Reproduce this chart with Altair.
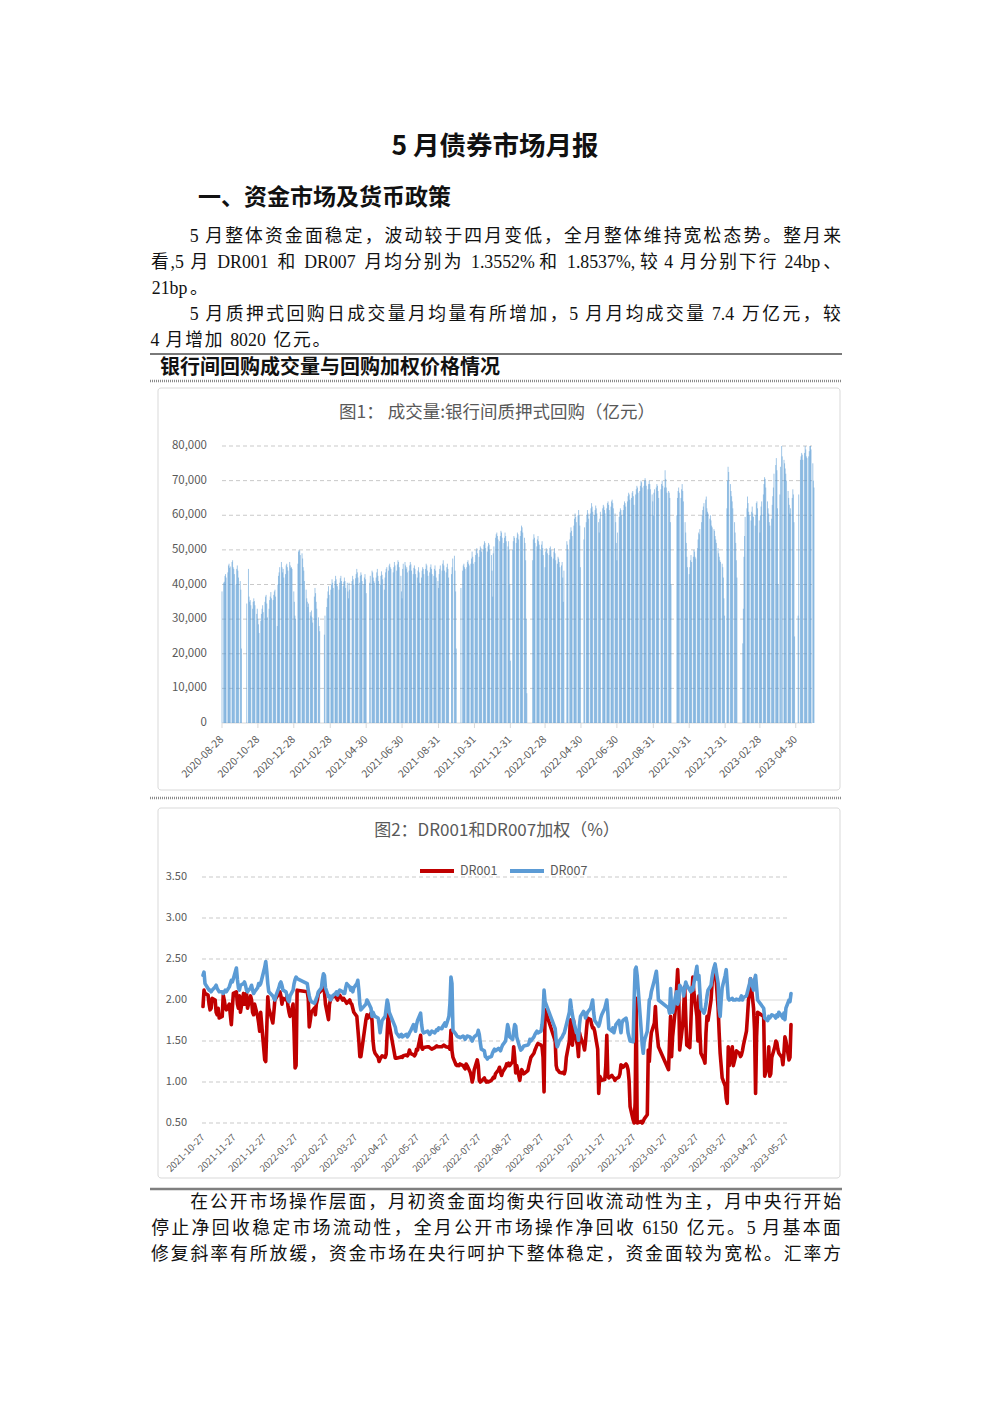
import altair as alt
import pandas as pd

FONT = "Noto Sans CJK SC"
BODY_FONT = "'Liberation Serif', 'Noto Sans CJK SC'"
INK = "#1a1a1a"
AXIS_GREY = "#595959"
GRID_GREY = "#C9C9C9"

# ---------------- page text ----------------
TITLE = "5 月债券市场月报"
SECTION = "一、资金市场及货币政策"
PARA_TOP = [
    "5 月整体资金面稳定，波动较于四月变低，全月整体维持宽松态势。整月来",
    "看,5 月 DR001 和 DR007 月均分别为 1.3552%和 1.8537%,较 4 月分别下行 24bp、",
    "21bp。",
    "5 月质押式回购日成交量月均量有所增加，5 月月均成交量 7.4 万亿元，较",
    "4 月增加 8020 亿元。",
]
PARA_TOP_INDENT = [True, False, False, True, False]
PARA_TOP_FULL = [True, True, False, True, False]
BOX_HEADING = "银行间回购成交量与回购加权价格情况"
PARA_BOTTOM = [
    "在公开市场操作层面，月初资金面均衡央行回收流动性为主，月中央行开始",
    "停止净回收稳定市场流动性，全月公开市场操作净回收 6150 亿元。5 月基本面",
    "修复斜率有所放缓，资金市场在央行呵护下整体稳定，资金面较为宽松。汇率方",
]
PARA_BOTTOM_INDENT = [True, False, False]
PARA_BOTTOM_FULL = [True, True, True]
FIG1_TITLE = "图1：  成交量:银行间质押式回购（亿元）"
FIG2_TITLE = "图2：DR001和DR007加权（%）"

# ---------------- calendar ----------------
HOLIDAYS = [
    "2020-10-01", "2020-10-02", "2020-10-05", "2020-10-06", "2020-10-07", "2020-10-08",
    "2021-01-01", "2021-02-11", "2021-02-12", "2021-02-15", "2021-02-16", "2021-02-17",
    "2021-04-05", "2021-05-03", "2021-05-04", "2021-05-05", "2021-06-14", "2021-09-20",
    "2021-09-21", "2021-10-01", "2021-10-04", "2021-10-05", "2021-10-06", "2021-10-07",
    "2022-01-03", "2022-01-31", "2022-02-01", "2022-02-02", "2022-02-03", "2022-02-04",
    "2022-04-04", "2022-04-05", "2022-05-02", "2022-05-03", "2022-05-04", "2022-06-03",
    "2022-09-12", "2022-10-03", "2022-10-04", "2022-10-05", "2022-10-06", "2022-10-07",
    "2023-01-02", "2023-01-23", "2023-01-24", "2023-01-25", "2023-01-26", "2023-01-27",
    "2023-04-05", "2023-05-01", "2023-05-02", "2023-05-03",
]

# ---------------- figure 1: daily repo volume (亿元), one list per month ----------------
vol_2020 = {
    8: [38000, 40500],
    9: [40800, 42500, 43000, 42000, 43500, 45500, 46000, 44800, 45200, 46500, 47000,
        45000, 44500, 43000, 40000, 44500, 45500, 44000, 42000, 41000, 38500, 21500],
    10: [34500, 44500, 36500, 35000, 35500, 34000, 33000, 35000, 36000, 35200, 34000,
         31500, 33000, 30000, 28500, 26000],
    11: [29500, 31500, 33000, 34000, 32000, 35000, 36500, 37000, 34500, 30500, 33000,
         35500, 36500, 37800, 36000, 35500, 37000, 38000, 38500, 36500, 28000],
    12: [40000, 42500, 43500, 45000, 46500, 45000, 43500, 44500, 42000, 43000, 45500,
         46000, 45000, 44000, 46500, 45500, 44800, 45000, 44500, 38000, 35000, 31000, 30000],
}
vol_2021 = {
    1: [46000, 49500, 50000, 49800, 48500, 49000, 47500, 45000, 44000, 41000, 38500,
        36000, 35000, 33500, 34500, 32000, 31000, 32500, 30500, 29000],
    2: [36500, 39000, 37500, 35000, 33000, 30500, 28000, 26500, 25500, 31000, 33500,
        36000, 38000, 39500, 37000],
    3: [38500, 40000, 41500, 40500, 39000, 41000, 42500, 41500, 40000, 39500, 38500,
        40500, 41800, 42500, 41000, 39500, 40800, 42000, 41000, 39000, 40500, 38000, 36000],
    4: [40500, 38500, 41000, 42500, 41500, 40000, 41800, 43000, 44500, 43500, 42000,
        40500, 42500, 43500, 42800, 41000, 40000, 42000, 43000, 41500, 37500],
    5: [40500, 42500, 44000, 43500, 42000, 41000, 40500, 42000, 43500, 44500, 42500,
        41000, 40000, 42500, 43800, 42800, 41500, 38500],
    6: [42000, 43500, 44500, 45000, 44000, 45500, 46000, 45000, 44500, 43500, 45000,
        46500, 45500, 44000, 45800, 47000, 46500, 45000, 42500, 38000, 36000],
    7: [44500, 46000, 46500, 45500, 44500, 45000, 43500, 44000, 45500, 46500, 45800,
        44000, 43000, 44800, 45500, 44500, 43000, 42000, 44000, 45000, 43500, 40500],
    8: [42000, 44000, 45000, 44500, 43000, 44500, 46000, 45500, 44000, 42500, 43500,
        45000, 45800, 44500, 43000, 42500, 44500, 45500, 44000, 42000, 41000, 39000],
    9: [43000, 44500, 45500, 44000, 46000, 47000, 45500, 44000, 43500, 45000, 46000,
        44500, 42000, 43000, 45000, 47500, 48300, 44000, 38000, 21500],
    10: [39000, 44000, 45500, 46000, 45000, 44500, 45000, 46500, 47000, 46000, 45500,
         46000, 47500, 49500, 48000, 46000],
    11: [46500, 48500, 50000, 50500, 49000, 48000, 50000, 51000, 50500, 49500, 50000,
         51500, 52500, 52000, 50500, 49500, 51000, 52000, 51500, 50000, 48500, 44000],
    12: [36500, 49000, 51000, 53500, 54500, 55000, 54000, 53000, 52500, 54000, 55500,
         55000, 53500, 52000, 53500, 55000, 54000, 52500, 51000, 52500, 50000, 40000, 18000],
}
vol_2022 = {
    1: [50000, 52500, 54000, 53500, 52000, 53500, 55000, 54500, 53000, 54000, 55500,
        57000, 56500, 55000, 53500, 52000, 47000, 30000, 8600],
    2: [47000, 53000, 54500, 53500, 52000, 51000, 53000, 54000, 52500, 51500, 50000,
        51500, 52500, 50500, 48500, 45000],
    3: [49500, 50500, 50000, 49000, 48500, 50500, 51000, 50000, 48000, 47500, 49500,
        50500, 49000, 47000, 46000, 48000, 47500, 46500, 45000, 45500, 46500, 42000, 35000],
    4: [44000, 52500, 51500, 50000, 53000, 55000, 56500, 55500, 54000, 57000, 59000,
        60500, 59500, 58000, 60000, 61500, 60000, 57000, 45000],
    5: [53000, 56500, 58000, 60000, 61500, 60500, 59000, 60500, 62000, 63500, 62500,
        61000, 60000, 61500, 62800, 62000, 60500, 58000, 55000],
    6: [59000, 61000, 62000, 63000, 62500, 61500, 60500, 62000, 63500, 64000, 63000,
        61500, 62500, 64000, 64500, 63500, 62000, 60500, 58000, 52000, 47000],
    7: [55000, 59500, 61000, 62000, 61500, 60000, 61500, 63000, 64000, 63500, 62500,
        64000, 65500, 66500, 66000, 64500, 65000, 66500, 67000, 65500, 63000],
    8: [66000, 67500, 68500, 68000, 66500, 67000, 68500, 70000, 69500, 68000, 68500,
        70000, 70700, 70000, 68500, 67500, 69000, 70000, 69000, 67500, 66000, 64000, 60000],
    9: [66500, 67500, 68000, 69000, 68500, 67000, 65000, 67500, 69000, 70000, 68500,
        68000, 73000, 70500, 68000, 66500, 67000, 66500, 65000, 58000, 40000],
    10: [60000, 65000, 67000, 68000, 66500, 65000, 67500, 69000, 67000, 64000, 58000,
         55000, 52000, 48000, 45000, 43000],
    11: [45000, 47000, 48500, 46500, 48000, 50000, 49500, 48000, 47500, 50500, 53000,
         55000, 54500, 56000, 58000, 60000, 61500, 62500, 63500, 64500, 65400, 62000],
    12: [61000, 60500, 59000, 60000, 58500, 57000, 56500, 56000, 55500, 54000, 53000,
         52000, 50500, 49000, 48000, 47000, 46500, 46000, 45000, 42000, 36000, 31000],
}
vol_2023 = {
    1: [62000, 70000, 74000, 72500, 69000, 67000, 65500, 64000, 62000, 58000, 55000,
        52000, 47000, 42000, 23000, 33000],
    2: [48000, 54000, 59500, 62000, 65400, 63500, 61000, 60000, 58500, 61000, 62500,
        60500, 59500, 57000, 60000, 63500, 64000, 62000, 58500, 55000],
    3: [60000, 62500, 64000, 66000, 69000, 71000, 70500, 68000, 64000, 62000, 60500,
        58000, 57000, 59000, 63000, 65500, 68000, 72000, 74500, 76500, 73000, 62000, 40000],
    4: [66000, 74000, 80000, 77000, 76000, 75000, 73500, 72000, 70000, 67000, 65000,
        63000, 60500, 62000, 65000, 67500, 66000, 58000, 25000],
    5: [31000, 66000, 76000, 77000, 78000, 77500, 76000, 78000, 80000, 79000, 77000,
        76500, 77000, 78500, 80000, 80000, 79000, 75000, 70000, 68000],
}
VOL_TICKS = [0, 10000, 20000, 30000, 40000, 50000, 60000, 70000, 80000]
VOL_DATE_LABELS = [
    "2020-08-28", "2020-10-28", "2020-12-28", "2021-02-28", "2021-04-30", "2021-06-30",
    "2021-08-31", "2021-10-31", "2021-12-31", "2022-02-28", "2022-04-30", "2022-06-30",
    "2022-08-31", "2022-10-31", "2022-12-31", "2023-02-28", "2023-04-30",
]

# ---------------- figure 2: DR001 / DR007 weighted rates (%), one list per month ----------------
dr001_2021 = {
    10: [1.92, 2.12, 2.08],
    11: [2.06, 1.95, 1.88, 1.90, 2.02, 2.00, 1.85, 1.82, 1.90, 1.78, 1.80, 2.06, 2.00,
         1.92, 1.88, 1.95, 1.82, 1.70, 1.90, 2.08, 2.10, 1.95],
    12: [1.90, 2.05, 1.85, 2.08, 1.95, 2.00, 2.08, 1.90, 2.05, 2.00, 1.85, 1.82, 1.95,
         1.80, 1.72, 1.62, 1.85, 1.70, 1.27, 1.25, 1.65, 2.04, 1.90],
}
dr001_2022 = {
    1: [1.72, 1.85, 2.00, 2.02, 2.08, 2.10, 2.05, 1.95, 2.02, 2.00, 2.05, 1.92, 1.85,
        1.80, 1.95, 1.60, 1.17, 1.20, 2.12],
    2: [2.10, 2.02, 1.67, 1.75, 1.85, 1.90, 1.82, 1.95, 2.00, 2.08, 2.12, 2.18, 2.20,
        2.10, 1.95, 1.76],
    3: [1.95, 2.00, 2.02, 2.04, 2.05, 2.02, 2.00, 2.05, 2.06, 2.00, 2.02, 2.00, 1.98,
        1.96, 2.00, 1.96, 1.95, 1.90, 1.85, 1.80, 1.65, 1.50, 1.31],
    4: [1.31, 1.76, 1.82, 1.78, 1.84, 1.75, 1.50, 1.39, 1.35, 1.30, 1.25, 1.28, 1.30,
        1.32, 1.30, 1.34, 1.60, 1.84, 1.70],
    5: [1.29, 1.29, 1.30, 1.30, 1.31, 1.30, 1.32, 1.33, 1.32, 1.34, 1.39, 1.35, 1.33,
        1.32, 1.34, 1.40, 1.39, 1.57, 1.42],
    6: [1.40, 1.42, 1.43, 1.43, 1.42, 1.41, 1.40, 1.42, 1.43, 1.44, 1.43, 1.43, 1.43,
        1.44, 1.45, 1.44, 1.43, 1.42, 1.40, 1.63, 1.38],
    7: [1.30, 1.21, 1.20, 1.21, 1.20, 1.22, 1.20, 1.18, 1.16, 1.22, 1.20, 1.12, 1.07,
        1.00, 1.05, 1.15, 1.27, 1.20, 1.02, 1.00, 1.01],
    8: [1.05, 1.02, 1.00, 1.01, 1.00, 1.02, 1.04, 1.06, 1.05, 1.10, 1.15, 1.18, 1.12,
        1.08, 1.12, 1.18, 1.22, 1.20, 1.23, 1.20, 1.25, 1.43, 1.30],
    9: [1.11, 1.20, 1.02, 1.10, 1.15, 1.12, 1.10, 1.14, 1.20, 1.25, 1.30, 1.35, 1.39,
        1.42, 1.45, 1.47, 1.45, 1.43, 1.30, 0.88, 1.88],
    10: [1.50, 1.20, 1.15, 1.14, 1.12, 1.11, 1.12, 1.10, 1.15, 1.30, 1.50, 1.76, 1.60,
         1.45, 1.76, 1.50],
    11: [1.45, 1.31, 1.60, 1.55, 1.45, 1.39, 1.50, 1.65, 1.78, 1.76, 1.70, 1.66, 1.66,
         1.62, 1.40, 0.86, 1.07, 1.05, 1.02, 1.03, 1.20, 1.57],
    12: [1.07, 1.05, 1.08, 1.06, 1.05, 1.02, 1.04, 1.06, 1.10, 1.21, 1.20, 1.18, 1.22,
         1.20, 1.15, 1.02, 0.70, 0.54, 0.50, 0.75, 2.02, 0.50],
}
dr001_2023 = {
    1: [0.52, 0.50, 0.52, 0.55, 0.60, 1.39, 1.25, 1.47, 1.60, 1.72, 1.92, 1.67, 1.55,
        1.43, 1.15, 1.50],
    2: [1.80, 1.31, 1.55, 1.92, 2.15, 2.37, 2.10, 1.39, 1.70, 1.92, 2.16, 1.80, 1.45,
        1.42, 1.70, 2.05, 2.28, 2.10, 1.80, 1.50],
    3: [2.05, 1.60, 1.35, 1.27, 1.23, 1.60, 1.80, 1.75, 2.00, 2.20, 2.30, 2.36, 2.42,
        1.90, 1.60, 1.35, 1.20, 1.05, 0.95, 0.80, 0.74, 1.43, 1.20],
    4: [1.43, 1.20, 1.30, 1.38, 1.35, 1.31, 1.33, 1.38, 1.45, 1.62, 1.80, 2.00, 2.08,
        2.26, 1.90, 1.63, 0.86, 1.55, 1.85],
    5: [1.80, 1.07, 1.20, 1.43, 1.07, 1.10, 1.30, 1.43, 1.50, 1.48, 1.40, 1.35, 1.30,
        1.21, 1.35, 1.55, 1.50, 1.27, 1.30, 1.70],
}
dr007_2021 = {
    10: [2.30, 2.34, 2.20],
    11: [2.14, 2.12, 2.12, 2.10, 2.12, 2.16, 2.18, 2.14, 2.12, 2.10, 2.10, 2.08, 2.10,
         2.12, 2.10, 2.16, 2.20, 2.24, 2.22, 2.26, 2.39, 2.25],
    12: [2.15, 2.12, 2.18, 2.20, 2.22, 2.18, 2.12, 2.10, 2.15, 2.18, 2.12, 2.08, 2.10,
         2.15, 2.20, 2.18, 2.20, 2.25, 2.40, 2.47, 2.35, 2.20, 2.10],
}
dr007_2022 = {
    1: [2.05, 2.02, 2.00, 2.05, 2.15, 2.20, 2.22, 2.18, 2.12, 2.10, 2.05, 2.00, 1.98,
        2.05, 2.12, 2.20, 2.25, 2.28, 2.26],
    2: [2.20, 2.12, 2.05, 2.00, 1.98, 1.96, 1.98, 2.02, 2.05, 2.10, 2.15, 2.25, 2.32,
        2.30, 2.15, 2.04],
    3: [2.05, 2.00, 2.02, 2.05, 2.08, 2.10, 2.06, 2.10, 2.12, 2.10, 2.08, 2.08, 2.15,
        2.20, 2.16, 2.12, 2.15, 2.10, 2.15, 2.20, 2.24, 2.12, 1.95],
    4: [1.88, 1.95, 2.00, 1.98, 1.90, 1.80, 1.85, 1.82, 1.80, 1.78, 1.70, 1.60, 1.68,
        1.75, 1.80, 1.90, 2.00, 1.95, 1.85],
    5: [1.67, 1.60, 1.55, 1.57, 1.58, 1.55, 1.56, 1.58, 1.55, 1.57, 1.60, 1.62, 1.70,
        1.66, 1.62, 1.70, 1.75, 1.84, 1.70],
    6: [1.62, 1.60, 1.62, 1.60, 1.58, 1.60, 1.62, 1.60, 1.62, 1.64, 1.63, 1.66, 1.65,
        1.68, 1.70, 1.72, 1.68, 1.80, 1.96, 2.28, 2.20],
    7: [1.63, 1.58, 1.56, 1.55, 1.55, 1.54, 1.56, 1.55, 1.52, 1.54, 1.56, 1.55, 1.52,
        1.50, 1.53, 1.55, 1.58, 1.63, 1.58, 1.48, 1.40],
    8: [1.38, 1.31, 1.30, 1.28, 1.30, 1.31, 1.35, 1.38, 1.40, 1.38, 1.41, 1.40, 1.38,
        1.42, 1.45, 1.50, 1.60, 1.70, 1.65, 1.55, 1.52, 1.62, 1.70],
    9: [1.68, 1.55, 1.42, 1.39, 1.40, 1.42, 1.44, 1.45, 1.47, 1.52, 1.50, 1.55, 1.58,
        1.60, 1.62, 1.60, 1.62, 1.70, 1.84, 2.12, 1.98],
    10: [1.65, 1.50, 1.43, 1.46, 1.50, 1.55, 1.58, 1.60, 1.65, 1.70, 1.85, 2.00, 1.90,
         1.82, 1.75, 1.60],
    11: [1.60, 1.51, 1.70, 1.80, 1.86, 1.84, 1.78, 1.82, 1.85, 1.90, 1.95, 2.00, 1.85,
         1.75, 1.70, 1.68, 1.72, 1.78, 1.82, 1.90, 1.95, 2.00],
    12: [1.85, 1.65, 1.62, 1.66, 1.60, 1.65, 1.70, 1.75, 1.68, 1.60, 1.72, 1.75, 1.78,
         1.72, 1.60, 1.55, 1.50, 1.49, 2.00, 2.37, 2.40, 2.30],
}
dr007_2023 = {
    1: [1.63, 1.45, 1.35, 1.50, 1.62, 1.80, 2.00, 2.02, 2.10, 2.24, 2.30, 2.35, 2.20,
        2.00, 1.90, 1.84],
    2: [2.14, 1.90, 1.85, 2.05, 2.10, 1.95, 2.00, 2.18, 2.12, 2.05, 2.15, 2.22, 2.18,
        2.12, 2.10, 2.15, 2.12, 2.20, 2.41, 2.25],
    3: [2.30, 2.10, 1.90, 1.84, 1.88, 1.95, 2.05, 2.12, 2.18, 2.28, 2.35, 2.40, 2.44,
        2.20, 1.90, 1.80, 2.00, 2.15, 2.30, 2.37, 2.20, 2.02, 2.00],
    4: [2.02, 2.00, 2.00, 2.01, 2.00, 2.02, 2.05, 2.00, 2.03, 2.05, 2.10, 2.15, 2.20,
        2.26, 2.12, 2.25, 2.30, 2.15, 2.00],
    5: [1.90, 1.78, 1.75, 1.80, 1.78, 1.80, 1.82, 1.80, 1.78, 1.82, 1.80, 1.85, 1.80,
        1.78, 1.84, 1.76, 1.90, 2.00, 1.98, 2.08],
}
RATE_TICKS = [0.5, 1.0, 1.5, 2.0, 2.5, 3.0, 3.5]
RATE_DATE_LABELS = [
    "2021-10-27", "2021-11-27", "2021-12-27", "2022-01-27", "2022-02-27", "2022-03-27",
    "2022-04-27", "2022-05-27", "2022-06-27", "2022-07-27", "2022-08-27", "2022-09-27",
    "2022-10-27", "2022-11-27", "2022-12-27", "2023-01-27", "2023-02-27", "2023-03-27",
    "2023-04-27", "2023-05-27",
]
SERIES = ["DR001", "DR007"]
SERIES_COLORS = ["#C00000", "#5B9BD5"]

# ---------------- helpers ----------------
HOLIDAY_SET = set(pd.to_datetime(HOLIDAYS))


def trading_days(year, month, first=1):
    start = pd.Timestamp(year, month, first)
    end = start + pd.offsets.MonthEnd(0)
    return [d for d in pd.bdate_range(start, end) if d not in HOLIDAY_SET]


def month_table(blocks, starts, field):
    rows = []
    for year, months in blocks:
        for month, vals in months.items():
            first = starts.get((year, month), 1)
            for d, v in zip(trading_days(year, month, first), vals):
                rows.append({"date": d, field: v})
    return pd.DataFrame(rows)


def dt(s):
    t = pd.Timestamp(s)
    return alt.DateTime(year=t.year, month=t.month, date=t.day)


volume = month_table(
    [(2020, vol_2020), (2021, vol_2021), (2022, vol_2022), (2023, vol_2023)],
    {(2020, 8): 28}, "vol",
)
dr001 = month_table([(2021, dr001_2021), (2022, dr001_2022), (2023, dr001_2023)],
                    {(2021, 10): 27}, "rate").assign(series="DR001")
dr007 = month_table([(2021, dr007_2021), (2022, dr007_2022), (2023, dr007_2023)],
                    {(2021, 10): 27}, "rate").assign(series="DR007")
rates = pd.concat([dr001, dr007], ignore_index=True)

vol_ticks = pd.DataFrame({"v": VOL_TICKS})
vol_dates = pd.DataFrame({"d": pd.to_datetime(VOL_DATE_LABELS), "lab": VOL_DATE_LABELS})
rate_ticks = pd.DataFrame({"v": RATE_TICKS})
rate_dates = pd.DataFrame({"d": pd.to_datetime(RATE_DATE_LABELS), "lab": RATE_DATE_LABELS})

ONE = alt.Data(values=[{}])


def text(s, x, y, size, weight="normal", color=INK, align="left", font=FONT):
    return alt.Chart(ONE).mark_text(
        text=s, font=font, fontSize=size, fontWeight=weight, color=color,
        align=align, baseline="middle",
    ).encode(x=alt.value(x), y=alt.value(y))


def hrule(y, x1, x2, color, width, dash=None):
    kw = dict(color=color, strokeWidth=width)
    if dash:
        kw["strokeDash"] = dash
    return alt.Chart(ONE).mark_rule(**kw).encode(
        x=alt.value(x1), x2=alt.value(x2), y=alt.value(y))


def frame(x1, y1, x2, y2):
    return alt.Chart(ONE).mark_rect(
        fill="white", stroke="#D9D9D9", strokeWidth=1, cornerRadius=3
    ).encode(x=alt.value(x1), x2=alt.value(x2), y=alt.value(y1), y2=alt.value(y2))


# ---- justified body text: every CJK glyph gets one grid cell, Latin runs keep
#      Times-style advance widths; full lines are stretched to the right margin ----
LATIN_EM = {" ": 0.25, ".": 0.25, ",": 0.25, "%": 0.833, "D": 0.722, "R": 0.667}
TEXT_LEFT, TEXT_RIGHT, EM = 150, 842, 19.6
BODY_SIZE = 17.8


def em_width(ch):
    return 1.0 if ord(ch) > 0x2E7F else LATIN_EM.get(ch, 0.5)


def cells(line):
    out, run, run_start, pos = [], "", 0.0, 0.0
    for ch in line:
        if ch == " " or ord(ch) > 0x2E7F:
            if run:
                out.append((run, run_start, pos - run_start))
                run = ""
            if ch != " ":
                out.append((ch, pos, 1.0))
            pos += em_width(ch)
            continue
        if not run:
            run_start = pos
        run += ch
        pos += em_width(ch)
    if run:
        out.append((run, run_start, pos - run_start))
    return out, pos


def paragraph(lines, indents, full, y0, pitch=26):
    layers = []
    for i, (line, indent, is_full) in enumerate(zip(lines, indents, full)):
        x0 = TEXT_LEFT + (2 * EM if indent else 0)
        parts, total = cells(line)
        unit = (TEXT_RIGHT - x0) / total if is_full else EM
        glyphs = pd.DataFrame({
            "g": [p[0] for p in parts],
            "cx": [x0 + (p[1] + p[2] / 2) * unit for p in parts],
        })
        layers.append(
            alt.Chart(glyphs).mark_text(
                font=BODY_FONT, fontSize=BODY_SIZE, color="#111111",
                align="center", baseline="middle",
            ).encode(
                x=alt.X("cx:Q", scale=None, axis=None),
                y=alt.value(y0 + pitch * i),
                text="g:N",
            )
        )
    return layers


# ---------------- figure 1 ----------------
F1_LEFT, F1_RIGHT, F1_TOP, F1_BOTTOM = 222, 814, 446, 723
x1 = alt.Scale(domain=[dt("2020-08-28"), dt("2023-05-31")], range=[F1_LEFT, F1_RIGHT], nice=False)
y1 = alt.Scale(domain=[0, 80000], range=[F1_BOTTOM, F1_TOP], nice=False)

grid1 = alt.Chart(vol_ticks).transform_filter(alt.datum.v > 0).mark_rule(
    color=GRID_GREY, strokeWidth=1, strokeDash=[4, 3]
).encode(
    y=alt.Y("v:Q", scale=y1, axis=None),
    x=alt.value(F1_LEFT), x2=alt.value(F1_RIGHT - 2),
)
ylab1 = alt.Chart(vol_ticks).mark_text(
    align="right", baseline="middle", font=FONT, fontSize=11.5, color=AXIS_GREY
).encode(
    y=alt.Y("v:Q", scale=y1, axis=None),
    x=alt.value(F1_LEFT - 15),
    text=alt.Text("v:Q", format=","),
)
base1 = hrule(F1_BOTTOM, F1_LEFT, F1_RIGHT - 2, "#D9D9D9", 1)
ticks1 = alt.Chart(vol_dates).mark_rule(color="#D9D9D9", strokeWidth=1).encode(
    x=alt.X("d:T", scale=x1, axis=None),
    y=alt.value(F1_BOTTOM), y2=alt.value(F1_BOTTOM + 5),
)
xlab1 = alt.Chart(vol_dates).mark_text(
    angle=315, align="right", baseline="middle", font=FONT, fontSize=10.5,
    color=AXIS_GREY,
).encode(
    x=alt.X("d:T", scale=x1, axis=None),
    y=alt.value(F1_BOTTOM + 15),
    text="lab:N",
)
bars1 = alt.Chart(volume).mark_rule(color="#5B9BD5", strokeWidth=0.6, opacity=0.95).encode(
    x=alt.X("date:T", scale=x1, axis=None),
    y=alt.Y("vol:Q", scale=y1, axis=None),
    y2=alt.datum(0),
)
fig1 = alt.layer(grid1, ylab1, ticks1, xlab1, bars1)

# ---------------- figure 2 ----------------
F2_LEFT, F2_RIGHT, F2_TOP, F2_BOTTOM = 202, 791, 877, 1123
x2 = alt.Scale(domain=[dt("2021-10-27"), dt("2023-05-31")], range=[F2_LEFT + 1, F2_RIGHT], nice=False)
y2 = alt.Scale(domain=[0.5, 3.5], range=[F2_BOTTOM, F2_TOP], nice=False)

grid2_dashed = alt.Chart(rate_ticks).transform_filter(alt.datum.v != 2.0).mark_rule(
    color=GRID_GREY, strokeWidth=1, strokeDash=[4, 3]
).encode(
    y=alt.Y("v:Q", scale=y2, axis=None),
    x=alt.value(F2_LEFT), x2=alt.value(F2_RIGHT - 1),
)
grid2_solid = alt.Chart(rate_ticks).transform_filter(alt.datum.v == 2.0).mark_rule(
    color="#D9D9D9", strokeWidth=1
).encode(
    y=alt.Y("v:Q", scale=y2, axis=None),
    x=alt.value(F2_LEFT), x2=alt.value(F2_RIGHT - 1),
)
ylab2 = alt.Chart(rate_ticks).mark_text(
    align="right", baseline="middle", font=FONT, fontSize=11, color=AXIS_GREY
).encode(
    y=alt.Y("v:Q", scale=y2, axis=None),
    x=alt.value(F2_LEFT - 15),
    text=alt.Text("v:Q", format=".2f"),
)
xlab2 = alt.Chart(rate_dates).mark_text(
    angle=315, align="right", baseline="middle", font=FONT, fontSize=9.5,
    color=AXIS_GREY,
).encode(
    x=alt.X("d:T", scale=x2, axis=None),
    y=alt.value(F2_BOTTOM + 13),
    text="lab:N",
)
color2 = alt.Color(
    "series:N",
    scale=alt.Scale(domain=SERIES, range=SERIES_COLORS),
    legend=alt.Legend(
        orient="none", legendX=418, legendY=852, direction="horizontal", title=None,
        symbolType="stroke", symbolStrokeWidth=4, symbolSize=1156, labelFont=FONT,
        labelFontSize=12.5, labelColor=AXIS_GREY, labelOffset=4, columnPadding=4,
        padding=0,
    ),
)
line_layers = [
    alt.Chart(rates).transform_filter(alt.datum.series == s).mark_line(
        strokeWidth=3.6, strokeJoin="round", strokeCap="round"
    ).encode(
        x=alt.X("date:T", scale=x2, axis=None),
        y=alt.Y("rate:Q", scale=y2, axis=None),
        color=color2,
    )
    for s in SERIES
]
fig2 = alt.layer(grid2_dashed, grid2_solid, ylab2, xlab2, *line_layers)

# ---------------- page ----------------
decor = [
    frame(158, 388, 840, 790),
    frame(158, 808, 840, 1178),
    hrule(354, 150, 842, "#4d4d4d", 1.6),
    hrule(381, 150, 842, "#8a8a8a", 2.5, [1, 1]),
    hrule(798, 150, 842, "#8a8a8a", 2.5, [1, 1]),
    hrule(1189, 150, 842, "#7f7f7f", 2.5),
    base1,
]
texts = [
    text(TITLE, 495, 147, 26.5, "bold", "#111111", "center"),
    text(SECTION, 198, 198, 23, "bold", "#111111"),
    text(BOX_HEADING, 160, 368, 20, "bold", "#111111"),
    text(FIG1_TITLE, 497, 413, 17.5, color=AXIS_GREY, align="center"),
    text(FIG2_TITLE, 497, 831, 17, color=AXIS_GREY, align="center"),
]
texts += paragraph(PARA_TOP, PARA_TOP_INDENT, PARA_TOP_FULL, 237)
texts += paragraph(PARA_BOTTOM, PARA_BOTTOM_INDENT, PARA_BOTTOM_FULL, 1203)

chart = alt.layer(*decor, fig1, fig2, *texts).resolve_scale(
    x="independent", y="independent"
).properties(
    width=992, height=1403, padding=0, background="white",
    autosize=alt.AutoSizeParams(type="none"),
).configure_view(stroke=None)

chart.save("out.html", embed_options={"renderer": "svg", "actions": False})
